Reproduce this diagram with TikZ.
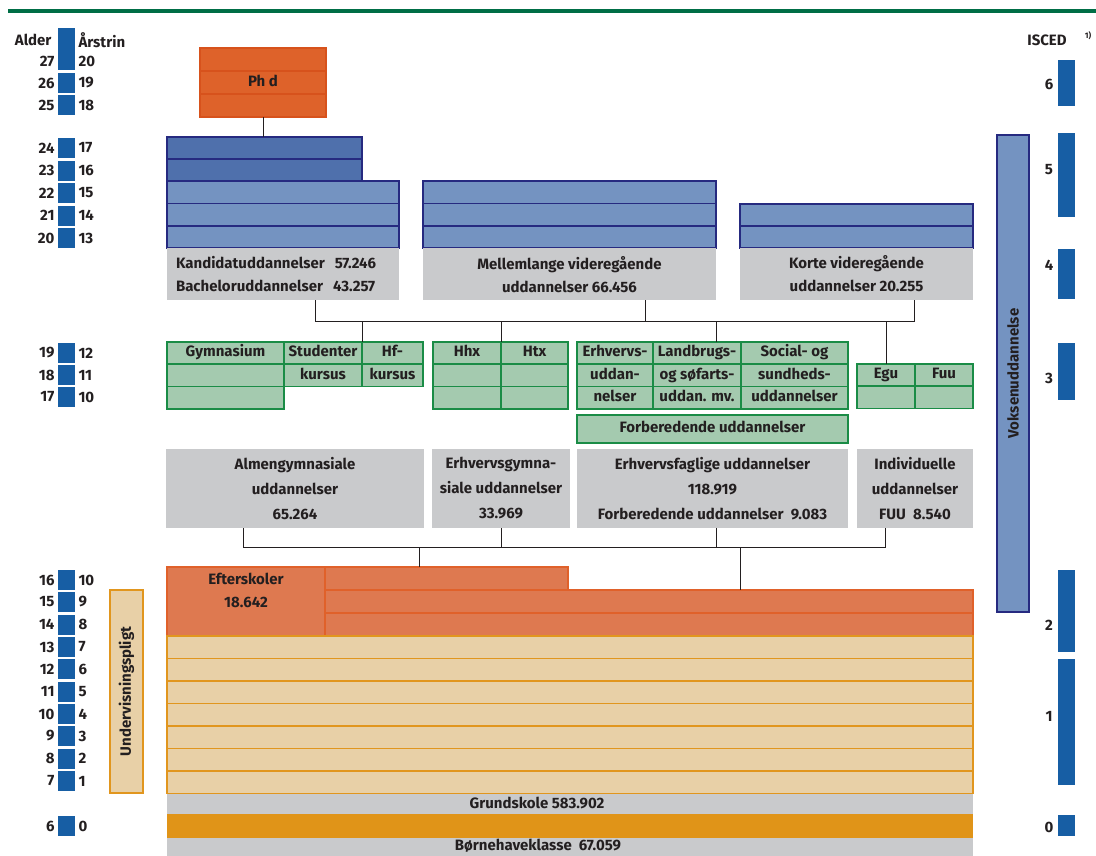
\documentclass[tikz,border=0pt]{standalone}
\usepackage{fontspec}
\setmainfont{Fira Sans}
\usetikzlibrary{positioning}
\definecolor{rulegreen}{RGB}{0,110,70}
\definecolor{ink}{RGB}{35,31,32}
\definecolor{yearblue}{RGB}{23,94,164}
\definecolor{phdfill}{RGB}{222,98,42}
\definecolor{phdline}{RGB}{215,82,28}
\definecolor{darkblue}{RGB}{79,112,172}
\definecolor{lightblue}{RGB}{116,147,193}
\definecolor{navy}{RGB}{38,42,128}
\definecolor{greyfill}{RGB}{201,202,204}
\definecolor{greenfill}{RGB}{164,202,175}
\definecolor{greenline}{RGB}{26,140,70}
\definecolor{eftfill}{RGB}{222,121,80}
\definecolor{eftline}{RGB}{224,97,42}
\definecolor{tanfill}{RGB}{232,208,167}
\definecolor{tanline}{RGB}{225,150,30}
\definecolor{orangebar}{RGB}{224,148,24}
\tikzset{
  every node/.style={font=\bfseries\fontsize{15}{23}\selectfont, text=ink},
  box/.style={rectangle, inner sep=0pt, outer sep=0pt, anchor=north west},
  cell/.style={box, text height=11pt, text depth=3.5pt},
  phdrow/.style={cell, fill=phdfill, draw=phdline, line width=1.5pt, minimum width=126pt, minimum height=23pt},
  kanrow/.style={box, fill=darkblue, draw=navy, line width=1.6pt, minimum width=195pt, minimum height=22pt},
  bluerow/.style={box, fill=lightblue, draw=navy, line width=1.6pt, minimum height=22.4pt},
  greybox/.style={box, fill=greyfill, align=center},
  greencell/.style={cell, fill=greenfill, draw=greenline, line width=1.8pt, minimum height=22.2pt},
  eftrow/.style={box, fill=eftfill, draw=eftline, line width=1.5pt},
  tanrow/.style={box, fill=tanfill, draw=tanline, line width=1.5pt, minimum width=806pt, minimum height=22.5pt},
  yearbar/.style={rectangle, fill=yearblue, inner sep=0pt, minimum width=17pt, minimum height=20pt},
  iscbar/.style={box, fill=yearblue, minimum width=17pt},
  link/.style={draw=ink, line width=1pt}
}
\begin{document}
\begin{tikzpicture}[x=1pt, y=-1pt]
\useasboundingbox (0,0) rectangle (1096,855);
\draw [rulegreen, line width=4pt] (8,11) -- (1096,11);

\node [anchor=east] (alder) at (55,40) {Alder};
\node [anchor=west] (aarstrin) at (75,40) {Årstrin};
\node [yearbar, minimum height=42pt] (bar27) at (66.5,49) {};
\node [anchor=east] (age27) at (58,61) {27};
\node [anchor=west] (gr27) at (75,61) {20};
\foreach \a/\g/\y in {26/19/83,25/18/105,24/17/148,23/16/170.5,22/15/193,21/14/215.5,20/13/238,
  19/12/353,18/11/375,17/10/397,16/10/580,15/9/602,14/8/624.5,13/7/647,12/6/669,11/5/691.5,
  10/4/714,9/3/736,8/2/758.5,7/1/781,6/0/826}
  {\node [anchor=east] (age\a) at (58,\y) {\a};
   \node [yearbar] (bar\a) at (66.5,\y) {};
   \node [anchor=west] (gr\a) at (75,\y) {\g};}

\node [phdrow] (phd1) at (200,48) {};
\node [phdrow, below=0pt of phd1] (phd2) {Ph d};
\node [phdrow, below=0pt of phd2] (phd3) {};

\node [kanrow] (kan1) at (167,137) {};
\node [kanrow, below=0pt of kan1] (kan2) {};
\node [bluerow, minimum width=232pt] (kan3) at (kan2.south west) {};
\node [bluerow, minimum width=232pt, below=0pt of kan3] (kan4) {};
\node [bluerow, minimum width=232pt, below=0pt of kan4] (kan5) {};
\node [greybox, align=left, text width=214pt, inner xsep=9pt, minimum height=52pt, below=0pt of kan5] (kangrey)
  {Kandidatuddannelser\ \ 57.246\\Bacheloruddannelser\ \ 43.257};

\node [bluerow, minimum width=293pt] (mel1) at (423,181) {};
\node [bluerow, minimum width=293pt, below=0pt of mel1] (mel2) {};
\node [bluerow, minimum width=293pt, below=0pt of mel2] (mel3) {};
\node [greybox, minimum width=293pt, minimum height=52pt, below=0pt of mel3] (melgrey)
  {Mellemlange videregående\\uddannelser 66.456};

\node [bluerow, minimum width=233pt, minimum height=22pt] (kor1) at (740,204) {};
\node [bluerow, minimum width=233pt, minimum height=22pt, below=0pt of kor1] (kor2) {};
\node [greybox, minimum width=233pt, minimum height=52pt, below=0pt of kor2] (korgrey)
  {Korte videregående\\uddannelser 20.255};

\node [greencell, minimum width=117pt] (gym1) at (167,342) {Gymnasium};
\node [greencell, minimum width=117pt, below=0pt of gym1] (gym2) {};
\node [greencell, minimum width=117pt, below=0pt of gym2] (gym3) {};
\node [greencell, minimum width=78pt] (stud1) at (gym1.north east) {Studenter};
\node [greencell, minimum width=78pt, below=0pt of stud1] (stud2) {kursus};
\node [greencell, minimum width=61pt] (hf1) at (stud1.north east) {Hf-};
\node [greencell, minimum width=61pt, below=0pt of hf1] (hf2) {kursus};

\node [greencell, minimum width=68pt] (hhx1) at (433,342) {Hhx};
\node [greencell, minimum width=68pt, below=0pt of hhx1] (hhx2) {};
\node [greencell, minimum width=68pt, below=0pt of hhx2] (hhx3) {};
\node [greencell, minimum width=67pt] (htx1) at (hhx1.north east) {Htx};
\node [greencell, minimum width=67pt, below=0pt of htx1] (htx2) {};
\node [greencell, minimum width=67pt, below=0pt of htx2] (htx3) {};

\node [greencell, minimum width=76pt] (erh1) at (577,342) {Erhvervs-};
\node [greencell, minimum width=76pt, below=0pt of erh1] (erh2) {uddan-};
\node [greencell, minimum width=76pt, below=0pt of erh2] (erh3) {nelser};
\node [greencell, minimum width=88pt] (land1) at (erh1.north east) {Landbrugs-};
\node [greencell, minimum width=88pt, below=0pt of land1] (land2) {og søfarts-};
\node [greencell, minimum width=88pt, below=0pt of land2] (land3) {uddan. mv.};
\node [greencell, minimum width=107pt] (soc1) at (land1.north east) {Social- og};
\node [greencell, minimum width=107pt, below=0pt of soc1] (soc2) {sundheds-};
\node [greencell, minimum width=107pt, below=0pt of soc2] (soc3) {uddannelser};
\node [greencell, minimum width=271pt, minimum height=28pt] (forb) at (577,415) {Forberedende uddannelser};

\node [greencell, minimum width=58pt] (egu1) at (857,364) {Egu};
\node [greencell, minimum width=58pt, below=0pt of egu1] (egu2) {};
\node [greencell, minimum width=58pt] (fuu1) at (egu1.north east) {Fuu};
\node [greencell, minimum width=58pt, below=0pt of fuu1] (fuu2) {};

\node [greybox, font=\bfseries\fontsize{15}{25}\selectfont, minimum width=258pt, minimum height=79pt] (almgrey) at (166,449)
  {Almengymnasiale\\uddannelser\\65.264};
\node [greybox, font=\bfseries\fontsize{15}{25}\selectfont, minimum width=138pt, minimum height=79pt] (ehgrey) at (432,449)
  {Erhvervsgymna-\\siale uddannelser\\33.969};
\node [greybox, font=\bfseries\fontsize{15}{25}\selectfont, minimum width=271pt, minimum height=79pt] (efgrey) at (577,449)
  {Erhvervsfaglige uddannelser\\118.919\\Forberedende uddannelser\ \ 9.083};
\node [greybox, font=\bfseries\fontsize{15}{25}\selectfont, minimum width=116pt, minimum height=79pt] (indgrey) at (857,449)
  {Individuelle\\uddannelser\\FUU\ \ 8.540};

\node [eftrow, minimum width=158pt, minimum height=69pt] (eft1) at (167,567) {};
\node [below=3pt of eft1.north, align=center] (eftlabel) {Efterskoler\\18.642};
\node [eftrow, minimum width=243pt, minimum height=23pt] (eft2) at (eft1.north east) {};
\node [eftrow, minimum width=648pt, minimum height=23pt] (eft3) at (eft2.south west) {};
\node [eftrow, minimum width=648pt, minimum height=23pt, below=0pt of eft3] (eft4) {};

\node [tanrow] (tan1) at (eft1.south west) {};
\node [tanrow, below=0pt of tan1] (tan2) {};
\node [tanrow, below=0pt of tan2] (tan3) {};
\node [tanrow, below=0pt of tan3] (tan4) {};
\node [tanrow, below=0pt of tan4] (tan5) {};
\node [tanrow, below=0pt of tan5] (tan6) {};
\node [tanrow, below=0pt of tan6] (tan7) {};
\node [box, fill=greyfill, minimum width=806pt, minimum height=20pt, below=0pt of tan7] (grund) {};
\node [box, fill=orangebar, minimum width=806pt, minimum height=24pt, below=0pt of grund] (bhbar) {};
\node [box, fill=greyfill, minimum width=806pt, minimum height=25pt, below=0pt of bhbar] (bhgrey) {};
\node (grundtext) at (537,803.5) {Grundskole 583.902};
\node (bhtext) at (538,846) {Børnehaveklasse\ \ 67.059};

\node [rotate=90, fill=tanfill, draw=tanline, line width=1.5pt, inner sep=0pt, minimum width=203pt, minimum height=33pt] (undv)
  at (126.5,691.5) {Undervisningspligt};
\node [rotate=90, fill=lightblue, draw=navy, line width=1.3pt, inner sep=0pt, minimum width=477pt, minimum height=32pt] (voksen)
  at (1013,373.5) {Voksenuddannelse};

\node (isced) at (1047,40) {ISCED};
\node [font=\bfseries\fontsize{8}{9}\selectfont] (note) at (1088,36) {1)};
\node [iscbar, minimum height=46pt] (isc6) at (1058,60) {};
\node [iscbar, minimum height=84pt] (isc5) at (1058,133) {};
\node [iscbar, minimum height=50pt] (isc4) at (1058,249) {};
\node [iscbar, minimum height=57pt] (isc3) at (1058,343) {};
\node [iscbar, minimum height=82pt] (isc2) at (1058,570) {};
\node [iscbar, minimum height=126pt] (isc1) at (1058,659) {};
\node [iscbar, minimum height=21pt] (isc0) at (1058,815) {};
\node (lev6) at (1049,84) {6};
\node (lev5) at (1049,170) {5};
\node (lev4) at (1049,265) {4};
\node (lev3) at (1049,378) {3};
\node (lev2) at (1049,625) {2};
\node (lev1) at (1049,716) {1};
\node (lev0) at (1049,827) {0};

\coordinate (tw) at (315,321);
\coordinate (te) at (914,321);
\coordinate (tmel) at (645,321);
\coordinate (tland) at (716,321);
\coordinate (mw) at (243,547);
\coordinate (me) at (885,547);
\coordinate (mef) at (716,547);
\coordinate (meft) at (419,547);
\coordinate (mlow) at (740,547);

\draw [link] (phd3.south) -- (phd3.south |- kan1.north);
\draw [link] (kangrey.south -| tw) |- (te) -- (korgrey.south -| te);
\draw [link] (melgrey.south -| tmel) -- (tmel);
\draw [link] (tw -| stud1.north east) -- (stud1.north east);
\draw [link] (tw -| hhx1.north east) -- (hhx1.north east);
\draw [link] (tland) -- (land1.north -| tland);
\draw [link] (tw -| egu1.north) -- (egu1.north);
\draw [link] (almgrey.south -| mw) |- (me) -- (indgrey.south -| me);
\draw [link] (ehgrey.south) -- (ehgrey.south |- mw);
\draw [link] (efgrey.south -| mef) -- (mef);
\draw [link] (meft) -- (eft2.north -| meft);
\draw [link] (mlow) -- (eft3.north -| mlow);
\end{tikzpicture}
\end{document}
